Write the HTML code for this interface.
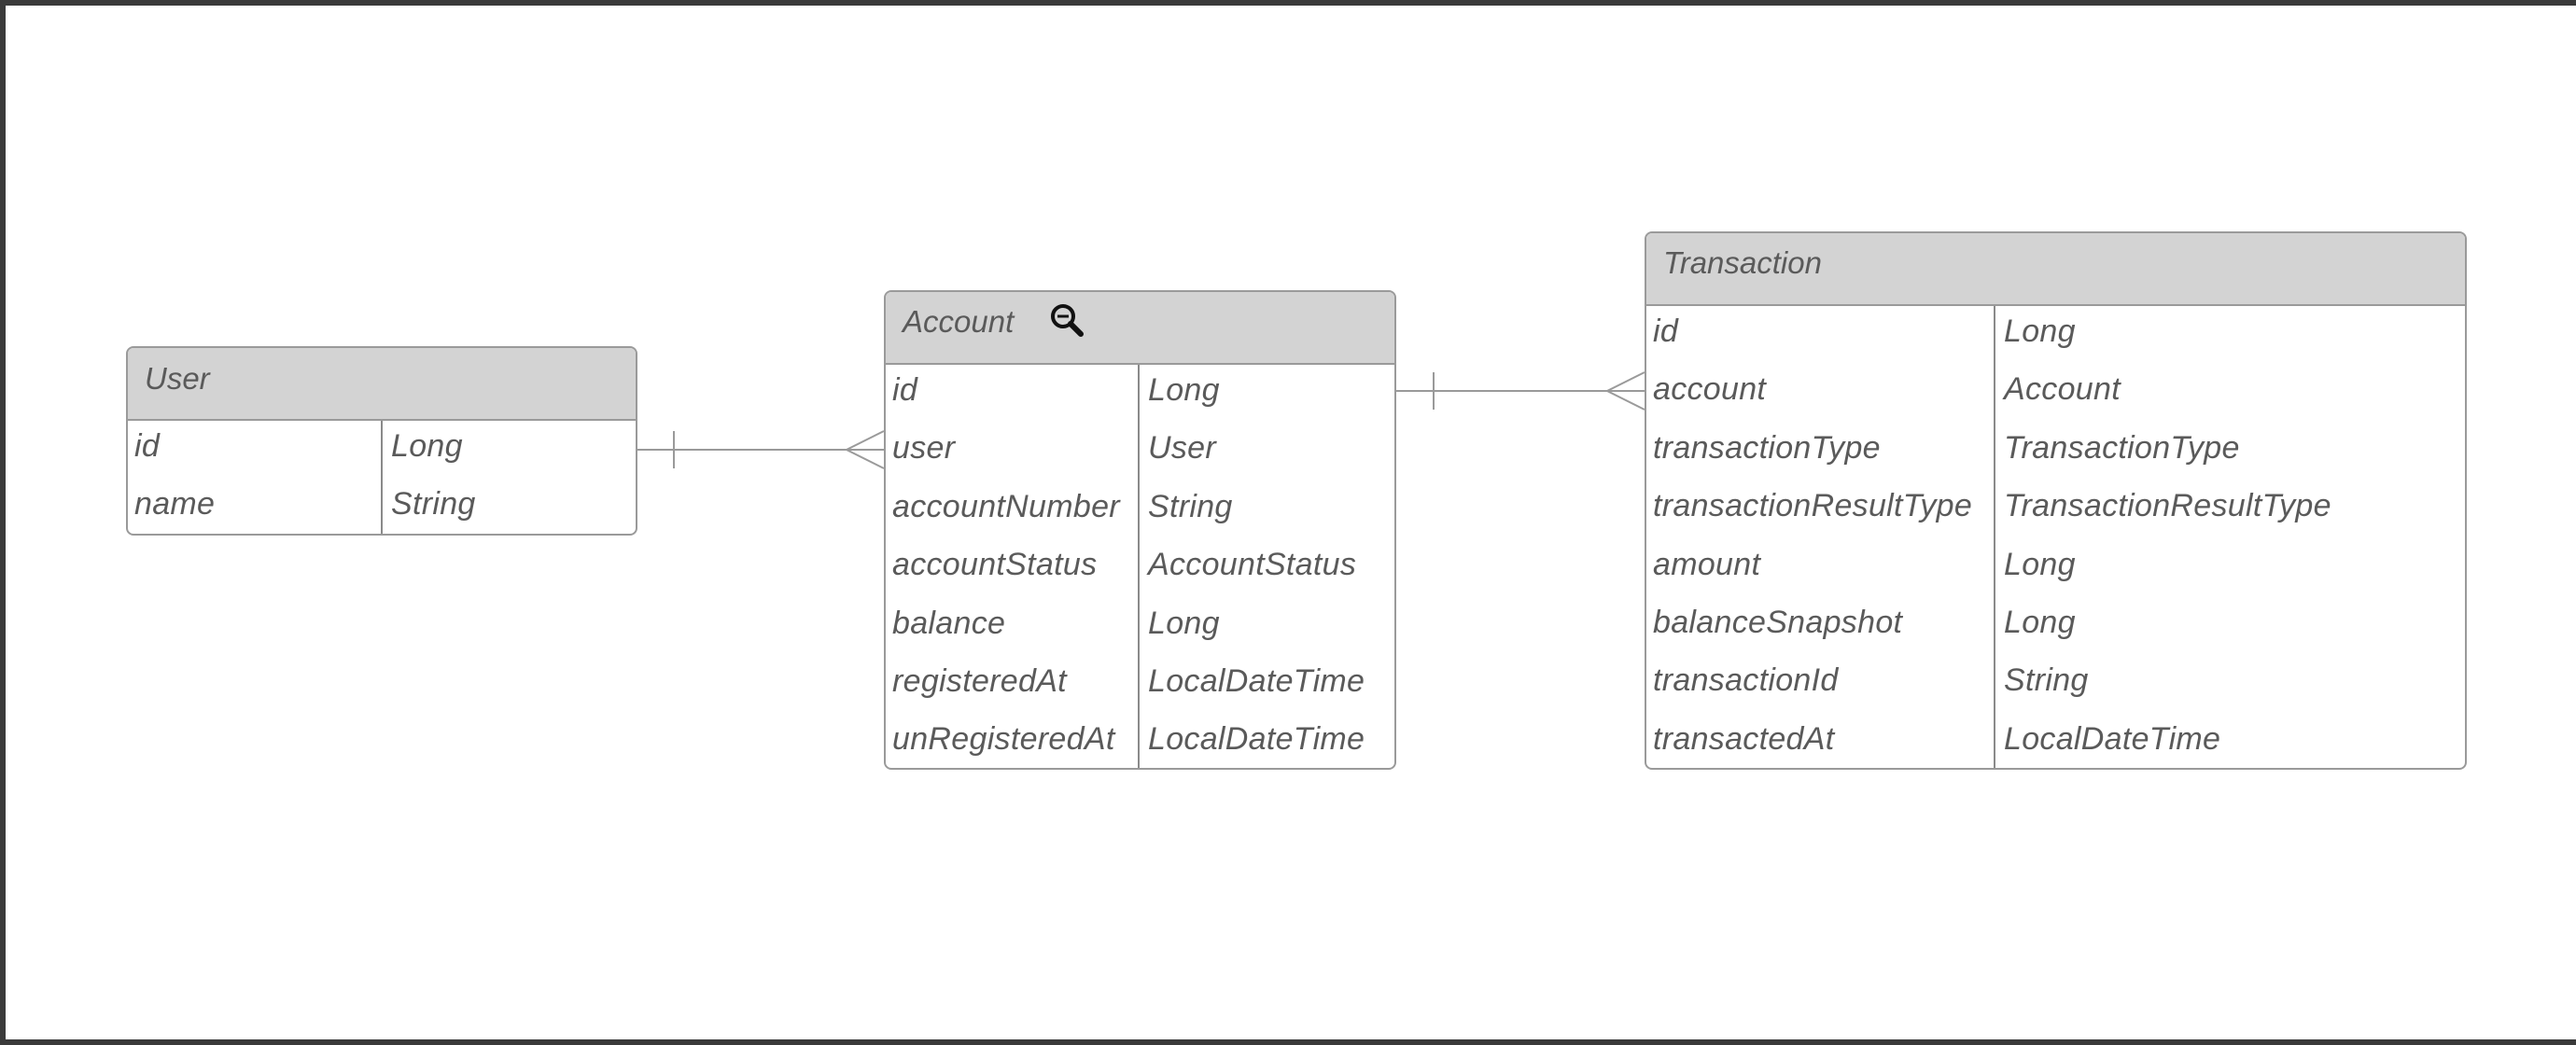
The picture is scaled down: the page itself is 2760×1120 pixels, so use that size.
<!DOCTYPE html>
<html><head><meta charset="utf-8"><style>
body{margin:0;width:2760px;height:1120px;background:#fff;position:relative;overflow:hidden;font-family:"Liberation Sans",sans-serif;font-style:italic;color:#5a5a5a}
.frame{position:absolute;left:0;top:0;width:2760px;height:1120px;box-sizing:border-box;border-left:6px solid #3a3a3a;border-top:6px solid #3a3a3a;border-bottom:6px solid #3a3a3a}
.t{position:absolute;border:2px solid #9a9a9a;border-radius:8px;background:#fff;box-sizing:border-box;overflow:hidden}
.h{position:absolute;left:0;right:0;top:0;background:#d3d3d3;border-bottom:2px solid #9a9a9a;font-size:33px;line-height:66px;padding-left:18px;box-sizing:border-box}
.div{position:absolute;width:2px;background:#8a8a8a;bottom:0}
.c{position:absolute;font-size:34px;line-height:62.4px;white-space:nowrap;letter-spacing:0.3px}
</style></head><body>
<div class="frame"></div>

<!-- User -->
<div class="t" style="left:135px;top:371px;width:548px;height:203px">
<div class="h" style="height:78px">User</div>
<div class="div" style="left:271px;top:78px"></div>
<div class="c" style="left:7px;top:74px">id<br>name</div>
<div class="c" style="left:282px;top:74px">Long<br>String</div>
</div>

<!-- Account -->
<div class="t" style="left:947px;top:311px;width:549px;height:514px">
<div class="h" style="height:78px;line-height:64px">Account</div>
<div class="div" style="left:270px;top:78px"></div>
<div class="c" style="left:7px;top:74px">id<br>user<br>accountNumber<br>accountStatus<br>balance<br>registeredAt<br>unRegisteredAt</div>
<div class="c" style="left:281px;top:74px">Long<br>User<br>String<br>AccountStatus<br>Long<br>LocalDateTime<br>LocalDateTime</div>
</div>
<svg style="position:absolute;left:1122px;top:322px" width="44" height="44" viewBox="0 0 44 44">
<circle cx="17" cy="17" r="11" fill="none" stroke="#111" stroke-width="4"/>
<line x1="11" y1="17" x2="23" y2="17" stroke="#111" stroke-width="3"/>
<line x1="25" y1="25" x2="36" y2="36" stroke="#111" stroke-width="6" stroke-linecap="round"/>
</svg>

<!-- Transaction -->
<div class="t" style="left:1762px;top:248px;width:881px;height:577px">
<div class="h" style="height:78px;line-height:64px">Transaction</div>
<div class="div" style="left:372px;top:78px"></div>
<div class="c" style="left:7px;top:74px">id<br>account<br>transactionType<br>transactionResultType<br>amount<br>balanceSnapshot<br>transactionId<br>transactedAt</div>
<div class="c" style="left:383px;top:74px">Long<br>Account<br>TransactionType<br>TransactionResultType<br>Long<br>Long<br>String<br>LocalDateTime</div>
</div>

<svg style="position:absolute;left:0;top:0" width="2760" height="1120">
<g stroke="#9a9a9a" stroke-width="2" fill="none">
<line x1="683" y1="482" x2="947" y2="482"/>
<line x1="722" y1="462" x2="722" y2="502"/>
<polyline points="947,462 907,482 947,502"/>
<line x1="1496" y1="419" x2="1762" y2="419"/>
<line x1="1536" y1="399" x2="1536" y2="439"/>
<polyline points="1762,399 1722,419 1762,439"/>
</g>
</svg>
</body></html>
